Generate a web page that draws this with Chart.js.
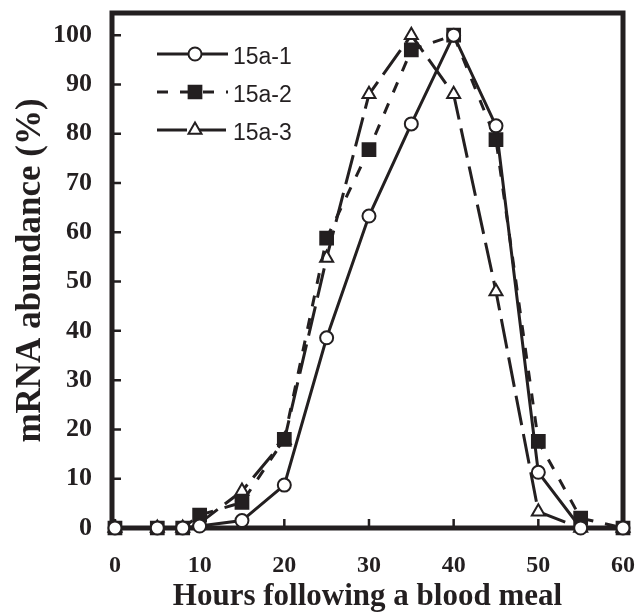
<!DOCTYPE html>
<html>
<head>
<meta charset="utf-8">
<script src="https://cdn.jsdelivr.net/npm/chart.js@4.4.1/dist/chart.umd.min.js"></script>
<style>
  body { margin: 0; background: #fff; }
</style>
</head>
<body>
<canvas id="mrnaChart" width="636" height="613"></canvas>
<script>
// time points (hours after the blood meal)
const hours = [0, 5, 8, 10, 15, 20, 25, 30, 35, 40, 45, 50, 55, 60];
// relative mRNA abundance (%) per transcript
const abund15a1 = [0, 0, 0, 0.4, 1.5, 8.7, 38.6, 63.3, 82, 100, 81.6, 11.3, 0, 0];
const abund15a2 = [0, 0, 0, 2.6, 5.2, 18, 58.8, 76.8, 97, 100, 78.8, 17.6, 2, 0];
const abund15a3 = [0, 0, 0, 1, 7.5, 17.8, 54.8, 88, 100, 88, 48, 3.3, 0, 0];
const seriesNames = ['15a-1', '15a-2', '15a-3'];

const xTicks = [0, 10, 20, 30, 40, 50, 60];
const yTicks = [0, 10, 20, 30, 40, 50, 60, 70, 80, 90, 100];

const ink = '#231f20';

function toPoints(values) {
  return hours.map((h, i) => ({ x: h, y: values[i] }));
}

// labels overflowing the axis should not push the plot area in
function noOverflow(s) {
  s.paddingTop = 0;
  s.paddingBottom = 0;
  s.paddingLeft = 0;
  s.paddingRight = 0;
}

// box round the plot + short ticks pointing inwards
const framePlugin = {
  id: 'frame',
  beforeDatasetsDraw(chart) {
    const { ctx, chartArea: a, scales } = chart;
    ctx.save();
    ctx.strokeStyle = ink;
    ctx.lineWidth = 2.5;
    ctx.beginPath();
    scales.y.ticks.forEach(t => {
      const py = scales.y.getPixelForValue(t.value);
      ctx.moveTo(a.left, py);
      ctx.lineTo(a.left + 9, py);
    });
    scales.x.ticks.forEach(t => {
      const px = scales.x.getPixelForValue(t.value);
      ctx.moveTo(px, a.bottom);
      ctx.lineTo(px, a.bottom - 9);
    });
    ctx.stroke();
    ctx.lineWidth = 5;
    ctx.strokeRect(a.left, a.top, a.right - a.left, a.bottom - a.top);
    ctx.restore();
  }
};

// legend: line sample with the marker in the middle
const legendPlugin = {
  id: 'lineLegend',
  afterDraw(chart) {
    const { ctx } = chart;
    const x0 = 157, x1 = 228, y0 = 54, rowGap = 38;
    chart.data.datasets.forEach((ds, i) => {
      const y = y0 + i * rowGap;
      ctx.save();
      ctx.strokeStyle = ds.borderColor;
      ctx.lineWidth = ds.borderWidth;
      ctx.setLineDash(ds.borderDash || []);
      ctx.beginPath();
      ctx.moveTo(x0, y);
      ctx.lineTo(x1, y);
      ctx.stroke();
      ctx.setLineDash([]);
      ctx.fillStyle = ds.pointBackgroundColor;
      ctx.strokeStyle = ds.pointBorderColor;
      ctx.lineWidth = ds.pointBorderWidth;
      Chart.helpers.drawPoint(ctx, {
        pointStyle: ds.pointStyle, radius: ds.pointRadius, borderWidth: ds.pointBorderWidth
      }, 195, y);
      ctx.fillStyle = ink;
      ctx.font = '23px "Liberation Sans", Arial, sans-serif';
      ctx.textBaseline = 'middle';
      ctx.fillText(ds.label, 233, y + 4);
      ctx.restore();
    });
  }
};

const lineStyle = {
  borderColor: ink,
  borderWidth: 3,
  pointBorderColor: ink,
  pointBorderWidth: 2,
  tension: 0,
  clip: false
};

new Chart(document.getElementById('mrnaChart'), {
  type: 'line',
  data: {
    datasets: [
      { ...lineStyle, label: seriesNames[0], data: toPoints(abund15a1),
        pointStyle: 'circle', pointRadius: 6.5, pointBackgroundColor: '#fff' },
      { ...lineStyle, label: seriesNames[1], data: toPoints(abund15a2), borderDash: [11, 12],
        pointStyle: 'rect', pointRadius: 9, pointBackgroundColor: ink },
      { ...lineStyle, label: seriesNames[2], data: toPoints(abund15a3), borderDash: [30, 9],
        pointStyle: 'triangle', pointRadius: 7.5, pointBackgroundColor: '#fff' }
    ]
  },
  options: {
    responsive: false,
    animation: false,
    layout: { padding: { top: 13, right: 13, left: 0, bottom: 0 } },
    plugins: { legend: { display: false }, tooltip: { enabled: false } },
    scales: {
      x: {
        type: 'linear',
        min: -0.35,
        max: 60,
        afterBuildTicks: s => { s.ticks = xTicks.map(v => ({ value: v })); },
        afterFit: s => { s.height = 85; noOverflow(s); },
        grid: { display: false, drawTicks: false },
        border: { display: false },
        ticks: {
          color: ink,
          padding: 23,
          maxRotation: 0,
          font: { family: '"Liberation Serif", serif', size: 24, weight: 'bold' }
        },
        title: {
          display: true,
          text: 'Hours following a blood meal',
          color: ink,
          padding: { top: 0, bottom: 1 },
          font: { family: '"Liberation Serif", serif', size: 31, weight: 'bold', lineHeight: 1 }
        }
      },
      y: {
        min: 0,
        max: 104.5,
        afterBuildTicks: s => { s.ticks = yTicks.map(v => ({ value: v })); },
        afterFit: s => { s.width = 112; noOverflow(s); },
        grid: { display: false, drawTicks: false },
        border: { display: false },
        ticks: {
          color: ink,
          padding: 20,
          font: { family: '"Liberation Serif", serif', size: 26, weight: 'bold' }
        },
        title: {
          display: true,
          text: 'mRNA abundance (%)',
          color: ink,
          padding: { top: 13, bottom: 0 },
          font: { family: '"Liberation Serif", serif', size: 35, weight: 'bold', lineHeight: 1 }
        }
      }
    }
  },
  plugins: [framePlugin, legendPlugin]
});
</script>
</body>
</html>
